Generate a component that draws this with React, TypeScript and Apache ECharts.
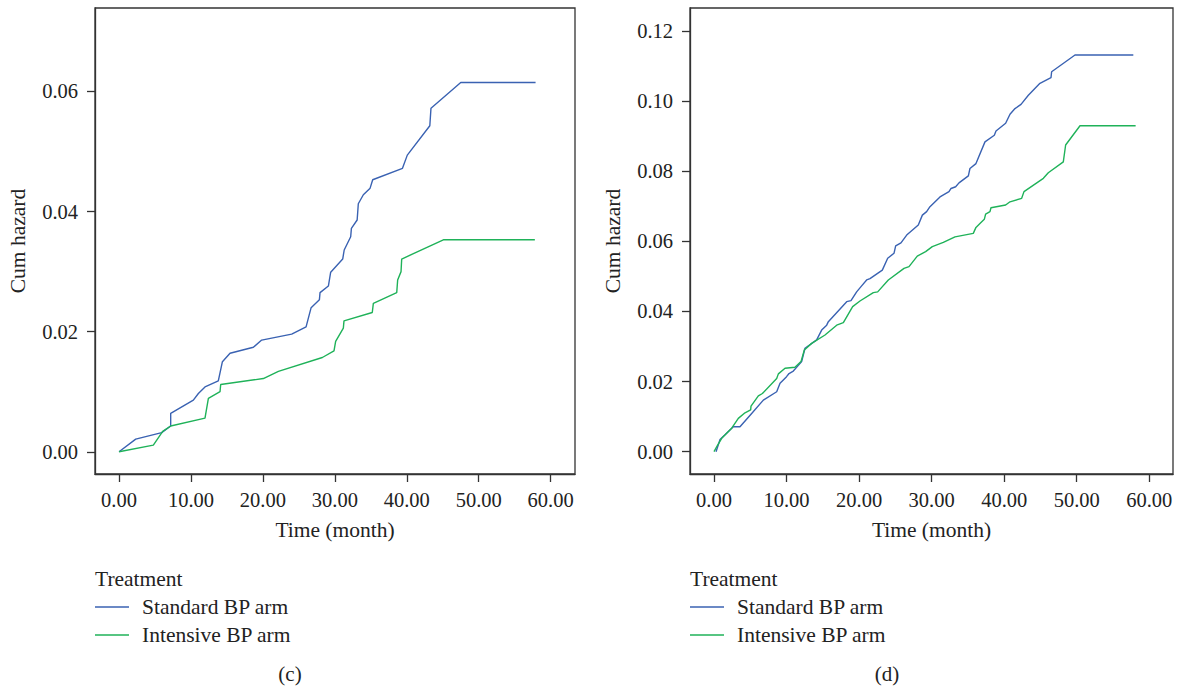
import React, { useEffect, useRef } from "react";
import * as echarts from "echarts";

const xTicks = [0, 10, 20, 30, 40, 50, 60];
const yTicksC = [0, 0.02, 0.04, 0.06];
const yTicksD = [0, 0.02, 0.04, 0.06, 0.08, 0.1, 0.12];
const seriesNames = ["Standard BP arm", "Intensive BP arm"];
const legendTitle = "Treatment";
const panelLabels = ["(c)", "(d)"];

const standardC: number[][] = [
  [0, 0], [2.32, 0.0021], [5.93, 0.0032], [7.18, 0.0043], [7.18, 0.0064], [10.33, 0.0086],
  [11.03, 0.0097], [11.95, 0.0108], [13.8, 0.0118], [14.37, 0.015], [15.43, 0.0164],
  [18.67, 0.0174], [19.83, 0.0186], [24.0, 0.0196], [26.0, 0.0208], [26.7, 0.024],
  [27.85, 0.0253], [27.94, 0.0265], [29.1, 0.0276], [29.42, 0.0299], [31.09, 0.0321],
  [31.3, 0.0336], [32.2, 0.0358], [32.3, 0.0372], [33.1, 0.0386], [33.26, 0.0413],
  [33.96, 0.0428], [34.9, 0.0439], [35.26, 0.0453], [39.4, 0.0472], [40.07, 0.0494],
  [43.2, 0.0543], [43.36, 0.0572], [47.5, 0.0615], [57.9, 0.0615],
];

const intensiveC: number[][] = [
  [0, 0], [4.77, 0.0011], [6.07, 0.0034], [7.18, 0.0043], [11.95, 0.0056], [12.42, 0.0089],
  [14.04, 0.01], [14.13, 0.0112], [20.06, 0.0122], [22.15, 0.0134], [28.26, 0.0157],
  [29.88, 0.0168], [30.11, 0.0184], [31.18, 0.0206], [31.27, 0.0218], [35.2, 0.0232],
  [35.35, 0.0247], [38.6, 0.0265], [38.73, 0.0286], [39.2, 0.03], [39.29, 0.0321],
  [45.08, 0.0353], [57.8, 0.0353],
];

const standardD: number[][] = [
  [0.28, 0], [0.83, 0.0035], [1.52, 0.0048], [2.66, 0.0071], [3.58, 0.0071], [5.19, 0.0109],
  [6.8, 0.0147], [8.64, 0.0171], [9.1, 0.0195], [10.0, 0.0214], [10.34, 0.0223],
  [10.93, 0.023], [12.08, 0.0257], [12.54, 0.0295], [14.15, 0.0319], [14.84, 0.0347],
  [15.53, 0.0361], [15.76, 0.0371], [18.29, 0.0428], [18.88, 0.0431], [19.66, 0.0456],
  [20.35, 0.0473], [21.04, 0.049], [21.5, 0.0494], [23.2, 0.0518], [23.94, 0.0552],
  [24.81, 0.0566], [25.04, 0.0587], [25.77, 0.0596], [26.56, 0.0618], [28.16, 0.0647],
  [28.72, 0.0675], [29.31, 0.0685], [29.77, 0.0699], [31.15, 0.0727], [32.39, 0.0742],
  [32.67, 0.0751], [33.31, 0.0756], [33.77, 0.0767], [35.06, 0.0787], [35.28, 0.0808],
  [36.11, 0.0822], [37.35, 0.0884], [38.64, 0.0903], [38.87, 0.0915], [40.2, 0.0937],
  [40.8, 0.0963], [41.49, 0.0979], [42.32, 0.0991], [43.33, 0.1017], [44.93, 0.1051],
  [46.45, 0.1067], [46.54, 0.1084], [49.76, 0.1132], [57.8, 0.1132],
];

const intensiveD: number[][] = [
  [0, 0], [0.5, 0.0019], [1.06, 0.0038], [2.44, 0.0067], [3.35, 0.0095], [4.27, 0.0111],
  [5.05, 0.0119], [5.1, 0.013], [6.11, 0.0159], [6.67, 0.0166], [8.64, 0.0209],
  [8.87, 0.0222], [9.79, 0.0238], [11.16, 0.0241], [11.99, 0.0257], [12.45, 0.029],
  [13.46, 0.0309], [15.3, 0.0333], [16.91, 0.0361], [17.83, 0.0368], [19.11, 0.0414],
  [20.12, 0.043], [21.96, 0.0454], [22.56, 0.0456], [24.03, 0.049], [26.19, 0.0523],
  [26.88, 0.0528], [28.02, 0.0558], [29.17, 0.0571], [30.09, 0.0585], [31.61, 0.0597],
  [33.22, 0.0613], [35.74, 0.0623], [36.11, 0.064], [36.66, 0.0651], [37.26, 0.0663],
  [37.44, 0.0678], [38.04, 0.0685], [38.18, 0.0696], [40.2, 0.0704], [40.8, 0.0713],
  [42.41, 0.0723], [42.73, 0.0742], [45.4, 0.078], [46.08, 0.0796], [48.15, 0.0827],
  [48.47, 0.0875], [50.45, 0.093], [58.12, 0.093],
];

const BLUE = "#3a62b2";
const GREEN = "#1fb259";
const AXIS = "#333333";
const TEXT = "#222222";
const FONT = "Liberation Serif";

export default function App() {
  const ref = useRef<HTMLDivElement>(null);
  useEffect(() => {
    if (!ref.current) return;
    const chart = echarts.init(ref.current, undefined, { renderer: "svg" });
    const grids = [
      { left: 95, top: 8, width: 480, height: 466 },
      { left: 690, top: 8, width: 483, height: 466 },
    ];
    const xRanges = [
      [-3.34, 63.38],
      [-3.31, 63.27],
    ];
    const yRanges = [
      [-0.0037, 0.0739],
      [-0.00637, 0.1266],
    ];
    const yTickSets = [yTicksC, yTicksD];
    const axisCommon = {
      type: "value",
      splitLine: { show: false },
      axisLine: { show: true, onZero: false, lineStyle: { color: AXIS, width: 1.3 } },
    };
    const xAxis = grids.map((g, i) => ({
      ...axisCommon,
      gridIndex: i,
      min: xRanges[i][0],
      max: xRanges[i][1],
      name: "Time (month)",
      nameLocation: "middle",
      nameGap: 45,
      nameTextStyle: { fontFamily: FONT, fontSize: 21.5, color: TEXT },
      axisTick: { show: true, customValues: xTicks, length: 8, lineStyle: { color: AXIS, width: 1.3 } },
      axisLabel: {
        customValues: xTicks,
        formatter: (v: number) => v.toFixed(2),
        fontFamily: FONT,
        fontSize: 20.5,
        color: TEXT,
        margin: 15,
      },
    }));
    const yAxis = grids.map((g, i) => ({
      ...axisCommon,
      gridIndex: i,
      min: yRanges[i][0],
      max: yRanges[i][1],
      name: "Cum hazard",
      nameLocation: "middle",
      nameGap: 66,
      nameTextStyle: { fontFamily: FONT, fontSize: 21.5, color: TEXT },
      axisTick: { show: true, customValues: yTickSets[i], length: 8, lineStyle: { color: AXIS, width: 1.3 } },
      axisLabel: {
        customValues: yTickSets[i],
        formatter: (v: number) => v.toFixed(2),
        fontFamily: FONT,
        fontSize: 20.5,
        color: TEXT,
        margin: 17,
      },
    }));
    const mk = (name: string, data: number[][], idx: number, color: string) => ({
      type: "line",
      name,
      xAxisIndex: idx,
      yAxisIndex: idx,
      data,
      symbol: "none",
      lineStyle: { color, width: 1.4 },
      itemStyle: { color },
    });
    const graphic: any[] = [];
    [95, 690].forEach((lx, i) => {
      graphic.push({
        type: "text",
        x: lx,
        y: 579,
        style: { text: legendTitle, fontFamily: FONT, fontSize: 21.5, fill: TEXT, verticalAlign: "middle" },
      });
      [BLUE, GREEN].forEach((c, j) => {
        const y = 607 + j * 28;
        graphic.push({
          type: "line",
          shape: { x1: lx, y1: y, x2: lx + 34, y2: y },
          style: { stroke: c, lineWidth: 1.4 },
        });
        graphic.push({
          type: "text",
          x: lx + 47,
          y,
          style: {
            text: seriesNames[j],
            fontFamily: FONT,
            fontSize: 21.5,
            fill: TEXT,
            verticalAlign: "middle",
          },
        });
      });
      graphic.push({
        type: "text",
        x: i === 0 ? 290 : 887,
        y: 674,
        style: {
          text: panelLabels[i],
          fontFamily: FONT,
          fontSize: 21,
          fill: TEXT,
          align: "center",
          verticalAlign: "middle",
        },
      });
    });
    chart.setOption({
      animation: false,
      backgroundColor: "#ffffff",
      grid: grids.map((g) => ({ ...g, show: true, borderColor: AXIS, borderWidth: 1.3, backgroundColor: "transparent" })),
      xAxis,
      yAxis,
      series: [
        mk(seriesNames[0], standardC, 0, BLUE),
        mk(seriesNames[1], intensiveC, 0, GREEN),
        mk(seriesNames[0], standardD, 1, BLUE),
        mk(seriesNames[1], intensiveD, 1, GREEN),
      ],
      graphic,
    });
    return () => chart.dispose();
  }, []);
  return (
    <div
      ref={ref}
      style={{ position: "absolute", left: 0, top: 0, width: 1179, height: 688 }}
    />
  );
}
